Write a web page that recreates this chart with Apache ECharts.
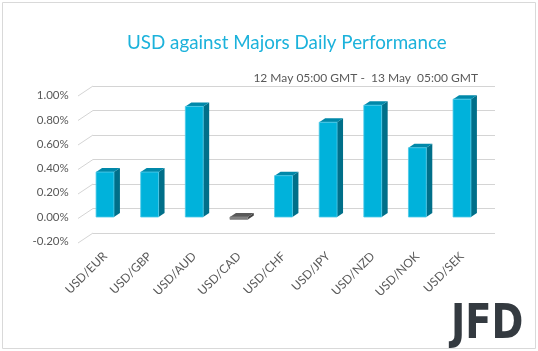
<!DOCTYPE html>
<html>
<head>
<meta charset="utf-8">
<script src="https://cdn.jsdelivr.net/npm/echarts@6/dist/echarts.min.js"></script>
<style>
html, body { margin: 0; padding: 0; background: #fff; }
#chart { width: 538px; height: 351px; }
</style>
</head>
<body>
<div id="chart"></div>
<script>
// currency pairs and their daily change (%)
var pairs = ['USD/EUR', 'USD/GBP', 'USD/AUD', 'USD/CAD', 'USD/CHF', 'USD/JPY', 'USD/NZD', 'USD/NOK', 'USD/SEK'];
var changes = [0.37, 0.37, 0.91, -0.02, 0.34, 0.78, 0.92, 0.57, 0.97];
var yTicks = [-0.2, 0, 0.2, 0.4, 0.6, 0.8, 1.0];

var chart = echarts.init(document.getElementById('chart'));

// 3d looking bar: front face + top + right side
function renderBar(params, api) {
  var idx = api.value(0);
  var v = api.value(1);
  var p0 = api.coord([idx, 0]);
  var p1 = api.coord([idx, v]);
  var w = api.size([1, 0])[0] * 0.4;
  var dx = 6, dy = 4;
  var l = p0[0] - w / 2, r = p0[0] + w / 2;
  var top = Math.min(p0[1], p1[1]);
  var bot = Math.max(p0[1], p1[1]);
  var neg = v < 0;
  var cFront = neg ? '#7f7f7f' : '#00b2db';
  var cTop = neg ? '#595959' : '#0088a9';
  var cSide = neg ? '#444444' : '#006f89';
  return {
    type: 'group',
    children: [
      {
        type: 'polygon',
        shape: { points: [[r, bot], [r + dx, bot - dy], [r + dx, top - dy], [r, top]] },
        style: { fill: cSide }
      },
      {
        type: 'polygon',
        shape: { points: [[l, top], [r, top], [r + dx, top - dy], [l + dx, top - dy]] },
        style: { fill: cTop }
      },
      {
        type: 'rect',
        shape: { x: l, y: top, width: w, height: Math.max(bot - top, 1) },
        style: { fill: cFront, stroke: neg ? '#8c8c8c' : '#4cc9e8', lineWidth: 0.8 }
      }
    ]
  };
}

// little diagonal lines from the labels to the back wall
function renderDiag(params, api) {
  var p = api.coord([0, api.value(1)]);
  return {
    type: 'line',
    shape: { x1: p[0] - 15, y1: p[1] + 10, x2: p[0], y2: p[1] },
    style: { stroke: '#d4d4d4', lineWidth: 1 }
  };
}

var option = {
  animation: false,
  title: [
    {
      text: 'USD against Majors Daily Performance',
      left: 122,
      top: 28,
      textStyle: { color: '#1cb2db', fontSize: 18.8, fontWeight: 'normal', fontFamily: 'Lato' }
    },
    {
      text: '12 May 05:00 GMT -  13 May  05:00 GMT',
      right: 55,
      top: 67,
      textStyle: { color: '#595959', fontSize: 12, fontWeight: 'normal', fontFamily: 'Lato' }
    }
  ],
  grid: [
    { left: 82.7, right: 53.7, top: 95.5, bottom: 109.7 },
    { left: 93, right: 43, top: 86, bottom: 118 }
  ],
  xAxis: [
    {
      type: 'category',
      gridIndex: 0,
      data: pairs,
      axisLine: { show: false },
      axisTick: { show: false },
      axisLabel: { rotate: 45, margin: 13, color: '#595959', fontSize: 12, fontFamily: 'Lato', interval: 0 }
    },
    { type: 'value', gridIndex: 1, min: 0, max: 1, show: false }
  ],
  yAxis: [
    {
      type: 'value',
      gridIndex: 0,
      min: -0.2,
      max: 1.0,
      interval: 0.2,
      axisLine: { show: false },
      axisTick: { show: false },
      splitLine: { show: false },
      axisLabel: {
        margin: 14,
        padding: [5, 0, 0, 0],
        color: '#595959',
        fontSize: 11.5,
        fontFamily: 'Lato',
        formatter: function (v) { return v.toFixed(2) + '%'; }
      }
    },
    {
      type: 'value',
      gridIndex: 1,
      min: -0.2,
      max: 1.0,
      interval: 0.2,
      axisLine: { show: false },
      axisTick: { show: false },
      axisLabel: { show: false },
      splitLine: { lineStyle: { color: '#d4d4d4', width: 1 } }
    }
  ],
  series: [
    {
      type: 'custom',
      xAxisIndex: 1,
      yAxisIndex: 1,
      renderItem: renderDiag,
      data: yTicks.map(function (v) { return [0, v]; })
    },
    {
      type: 'custom',
      xAxisIndex: 0,
      yAxisIndex: 0,
      renderItem: renderBar,
      data: changes.map(function (v, i) { return [i, v]; })
    }
  ],
  graphic: [
    {
      type: 'rect',
      shape: { x: 2.5, y: 2.5, width: 533, height: 346 },
      style: { fill: 'none', stroke: '#d9d9d9', lineWidth: 1 },
      silent: true
    },
    {
      type: 'text',
      x: 451,
      y: 302,
      scaleX: 0.8,
      style: { text: 'JFD', fill: '#343a40', font: 'bold 48px "DejaVu Sans"' },
      silent: true
    }
  ]
};

chart.setOption(option);
</script>
</body>
</html>
